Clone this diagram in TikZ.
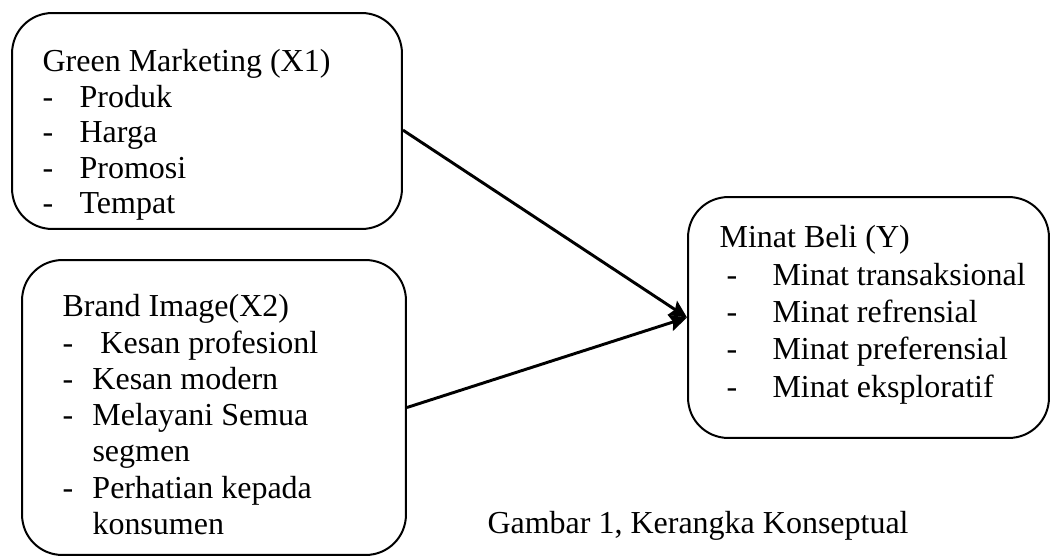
\documentclass[tikz,border=0pt]{standalone}
\usepackage{fontspec}
\setmainfont{Liberation Serif}
\usetikzlibrary{arrows.meta,positioning}

\newcommand{\dashitem}[2][0.488cm]{\makebox[#1][l]{-}#2}

\begin{document}
\begin{tikzpicture}[x=0.01318cm, y=-0.01318cm,
  varbox/.style={draw, rounded corners=0.53cm, line width=0.75pt},
  itemtext/.style={inner sep=0pt, align=left, font=\fontsize{12}{13.3}\selectfont},
  conn/.style={-{Stealth[length=0.23cm,width=0.22cm,inset=0.04cm]}, line width=1.1pt}]
  \useasboundingbox (0,0) rectangle (1055,558);

  \node[varbox, minimum width=5.14cm, minimum height=2.847cm] (gm) at (207,121) {};
  \node[varbox, minimum width=5.061cm, minimum height=3.888cm] (bi) at (214,407.5) {};
  \node[varbox, minimum width=4.758cm, minimum height=3.176cm] (mb) at (868.5,317.5) {};

  % isi kotak
  \node[itemtext, below right=0.488cm and 0.409cm of gm.north west] (gmtext) {Green Marketing (X1)\\
    \dashitem{Produk}\\ \dashitem{Harga}\\ \dashitem{Promosi}\\ \dashitem{Tempat}};
  \node[itemtext, font=\fontsize{12}{13.6}\selectfont, below right=0.461cm and 0.54cm of bi.north west] (bitext) {Brand Image(X2)\\
    \dashitem[0.395cm]{\ Kesan profesionl}\\ \dashitem[0.395cm]{Kesan modern}\\
    \dashitem[0.395cm]{Melayani Semua}\\ \hspace*{0.395cm}segmen\\
    \dashitem[0.395cm]{Perhatian kepada}\\ \hspace*{0.395cm}konsumen};
  \node[itemtext, font=\fontsize{12}{14}\selectfont, below right=0.382cm and 0.422cm of mb.north west] (mbtext) {Minat Beli (Y)\\
    \hspace*{0.092cm}\dashitem[0.606cm]{Minat transaksional}\\
    \hspace*{0.092cm}\dashitem[0.606cm]{Minat refrensial}\\
    \hspace*{0.092cm}\dashitem[0.606cm]{Minat preferensial}\\
    \hspace*{0.092cm}\dashitem[0.606cm]{Minat eksploratif}};

  \draw[conn] ([yshift=-0.12cm]gm.east) -- (mb.west);
  \draw[conn] (bi.east) -- (mb.west);

  \node[inner sep=0pt, anchor=base west, font=\fontsize{12}{14}\selectfont] (caption) at (487,533) {Gambar 1, Kerangka Konseptual};
\end{tikzpicture}
\end{document}
